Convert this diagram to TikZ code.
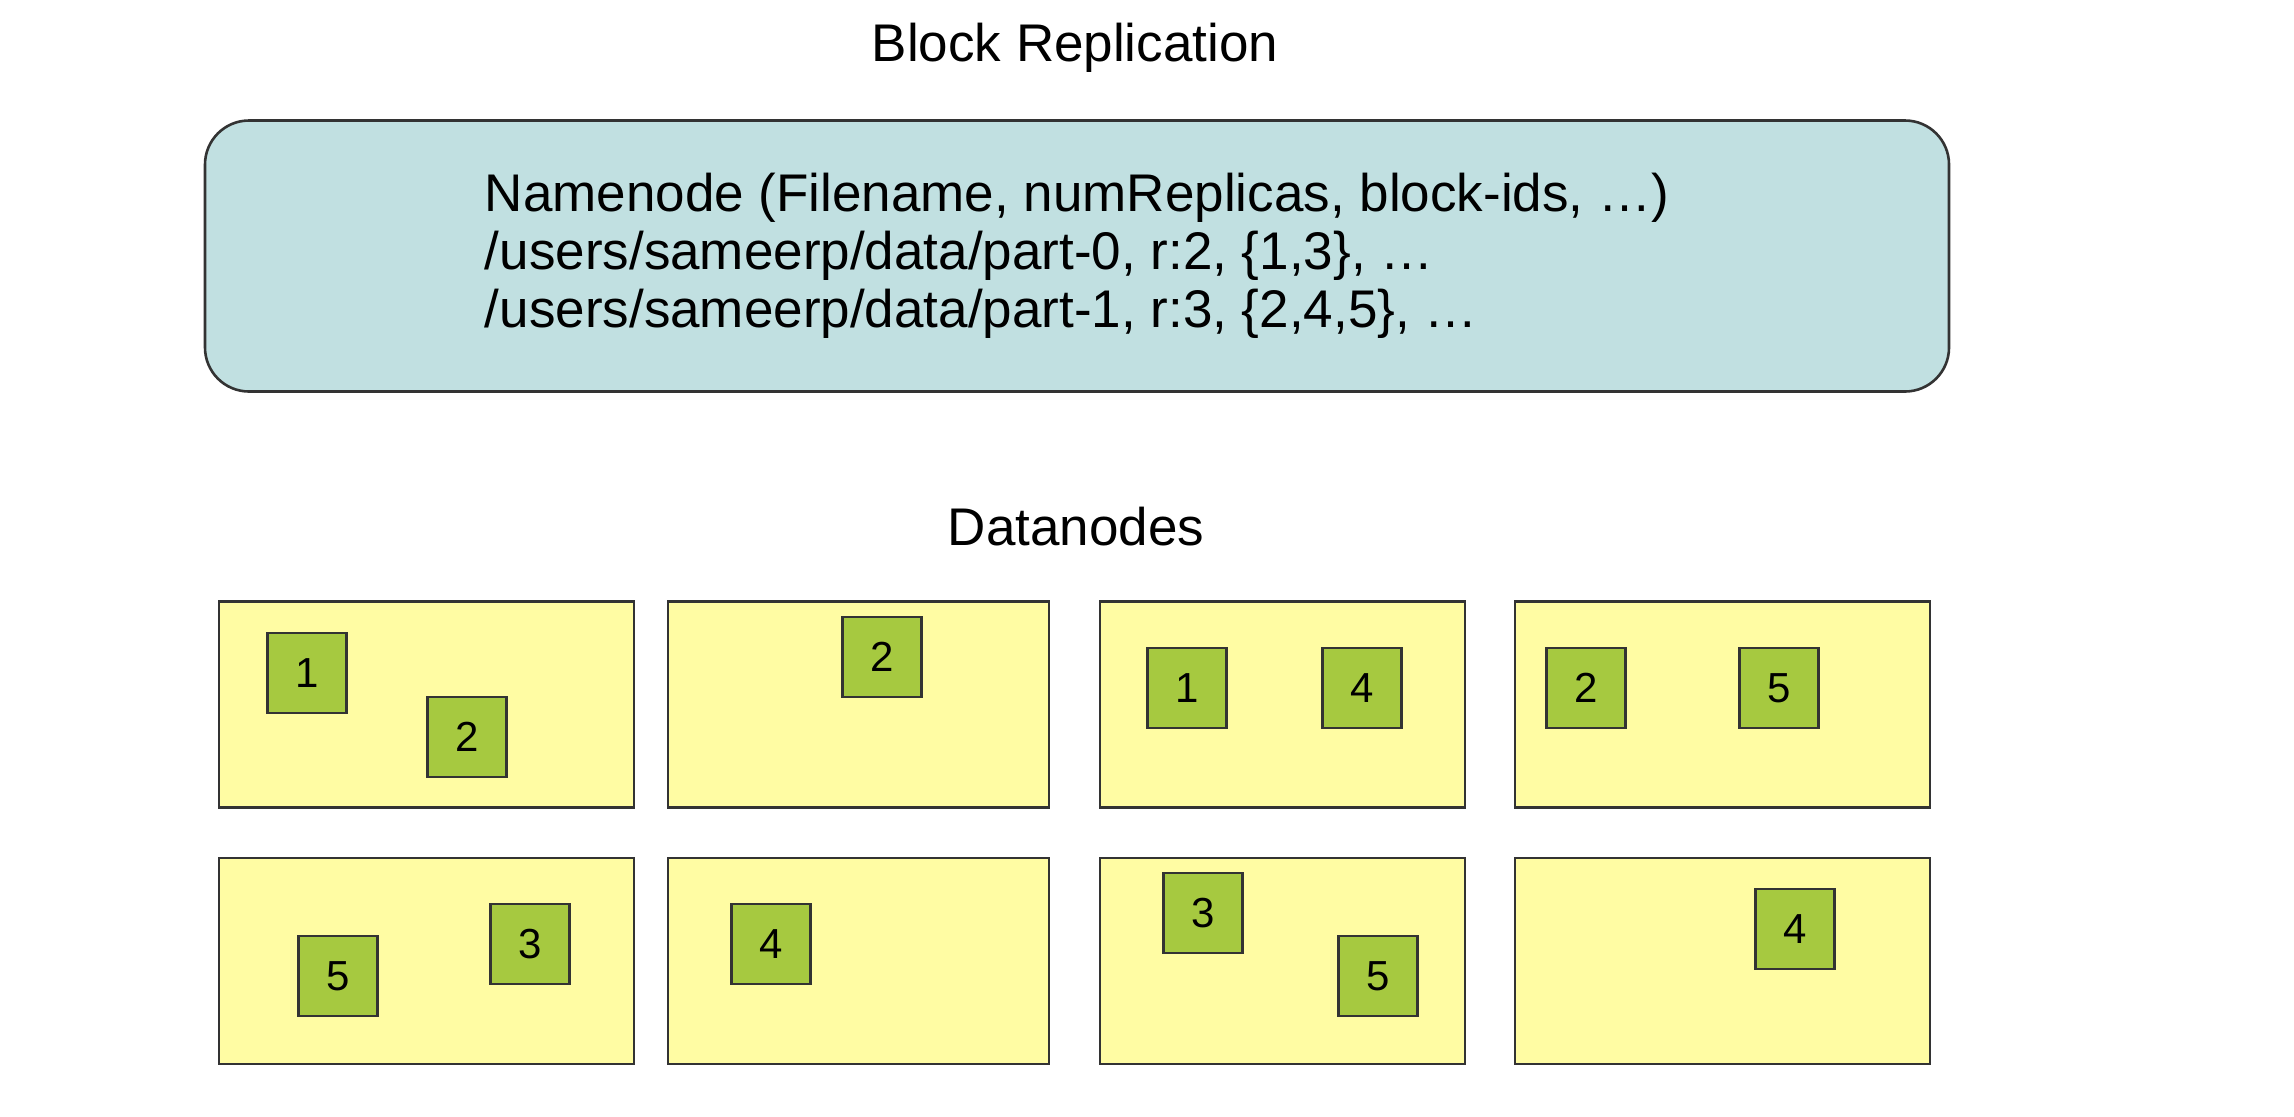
\documentclass[tikz,border=0pt]{standalone}
\usepackage{fontspec}
\setmainfont{Liberation Sans}
\definecolor{nameblue}{HTML}{C1E0E1}
\definecolor{dnyellow}{HTML}{FFFCA3}
\definecolor{blkgreen}{HTML}{A6C940}
\definecolor{edgegray}{HTML}{333333}
\tikzset{
	namebox/.style = {draw=edgegray, fill=nameblue, line width=1.3pt, rounded corners=22pt,
		minimum width=872pt, minimum height=135.5pt, align=left,
		font=\fontsize{26.5}{29}\selectfont},
	dnbox/.style = {draw=edgegray, fill=dnyellow, line width=1.2pt, minimum height=103pt},
	blk/.style = {draw=edgegray, fill=blkgreen, line width=1.1pt, inner sep=0pt,
		minimum width=39.5pt, minimum height=40pt, font=\fontsize{21}{24}\selectfont},
	heading/.style = {font=\fontsize{26.5}{29}\selectfont}
}

\begin{document}
\begin{tikzpicture}[x=0.5pt, y=-0.5pt]
	\useasboundingbox (0,0) rectangle (2294,1116);
	\node[heading] (title) at (1075,48) {Block Replication};
	\node[namebox] (namenode) at (1077,256) {Namenode (Filename, numReplicas, block-ids, …)\\
		/users/sameerp/data/part-0, r:2, \{1,3\}, …\\
		/users/sameerp/data/part-1, r:3, \{2,4,5\}, …};
	\node[heading] (dntitle) at (1076,527) {Datanodes};
	% datanodes, top row
	\node[dnbox, minimum width=207.5pt] (dn1) at (426.5,704.5) {};
	\node[dnbox, minimum width=190.5pt] (dn2) at (858.5,704.5) {};
	\node[dnbox, minimum width=182.5pt] (dn3) at (1282.5,704.5) {};
	\node[dnbox, minimum width=207.5pt] (dn4) at (1722.5,704.5) {};
	% datanodes, bottom row
	\node[dnbox, minimum width=207.5pt] (dn5) at (426.5,961) {};
	\node[dnbox, minimum width=190.5pt] (dn6) at (858.5,961) {};
	\node[dnbox, minimum width=182.5pt] (dn7) at (1282.5,961) {};
	\node[dnbox, minimum width=207.5pt] (dn8) at (1722.5,961) {};
	% blocks
	\node[blk] (dn1a) at (307,673) {1};
	\node[blk] (dn1b) at (467,737) {2};
	\node[blk] (dn2a) at (882,657) {2};
	\node[blk] (dn3a) at (1187,688) {1};
	\node[blk] (dn3b) at (1362,688) {4};
	\node[blk] (dn4a) at (1586,688) {2};
	\node[blk] (dn4b) at (1779,688) {5};
	\node[blk] (dn5a) at (338,976) {5};
	\node[blk] (dn5b) at (530,944) {3};
	\node[blk] (dn6a) at (771,944) {4};
	\node[blk] (dn7a) at (1203,913) {3};
	\node[blk] (dn7b) at (1378,976) {5};
	\node[blk] (dn8a) at (1795,929) {4};
\end{tikzpicture}
\end{document}
